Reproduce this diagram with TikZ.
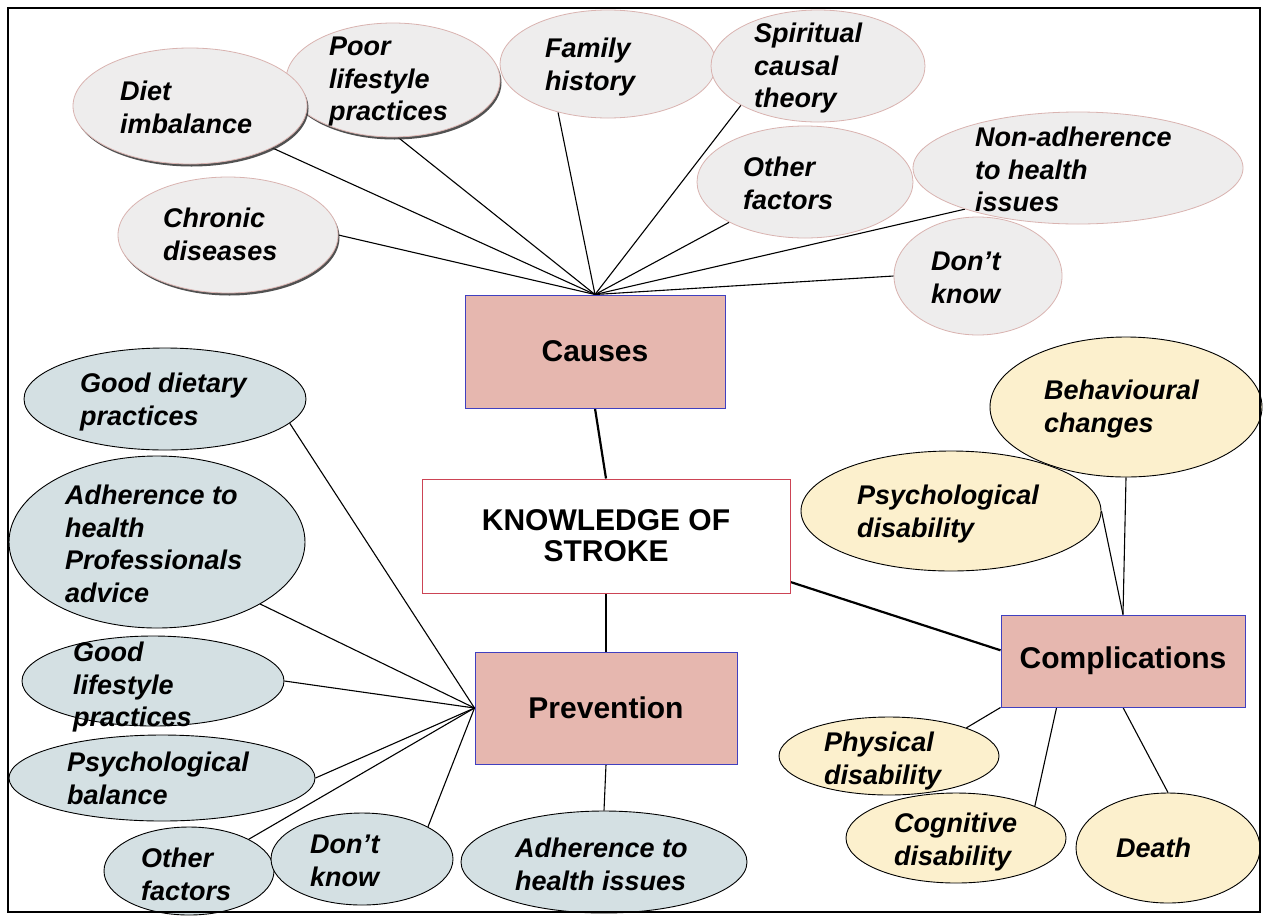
\documentclass[tikz,border=0pt]{standalone}
\usepackage{fontspec}
\setmainfont{Liberation Sans}
\usetikzlibrary{shapes.geometric,shadows}
\pgfdeclarelayer{bg}
\pgfsetlayers{bg,main}
\definecolor{causefill}{HTML}{EEEDED}
\definecolor{causeline}{HTML}{D9B3B0}
\definecolor{prevfill}{HTML}{D4E0E3}
\definecolor{compfill}{HTML}{FCF0CD}
\definecolor{boxfill}{HTML}{E6B7AF}
\definecolor{boxline}{HTML}{4040C0}
\definecolor{ksline}{HTML}{CC4455}
\tikzset{
  ell/.style 2 args={ellipse, minimum width=#1, minimum height=#2, inner sep=0pt},
  causeE/.style={draw=causeline, fill=causefill, line width=0.8pt},
  shadowed/.style={drop shadow={shadow xshift=1.5pt, shadow yshift=-2.5pt, fill=black!80, opacity=0.85}},
  prevE/.style={draw=black, fill=prevfill, line width=0.9pt},
  compE/.style={draw=black, fill=compfill, line width=0.9pt},
  lab/.style={anchor=north west, align=left, inner sep=0pt, font=\fontsize{27}{32.5}\selectfont\bfseries\itshape},
  boxN/.style={draw=boxline, fill=boxfill, line width=1pt, inner sep=0pt, font=\fontsize{30}{31}\selectfont\bfseries, align=center},
  ksN/.style={draw=ksline, fill=white, line width=1pt, inner sep=0pt, font=\fontsize{30}{31}\selectfont\bfseries, align=center},
  link/.style={line width=1.1pt},
  mainlink/.style={line width=2.2pt}
}
\begin{document}
\begin{tikzpicture}[x=1pt,y=-1pt]
\useasboundingbox (0,0) rectangle (1265,916);
\begin{pgfonlayer}{bg}
\fill[white] (0,0) rectangle (1265,916);
\end{pgfonlayer}

% boxes
\node[boxN, minimum width=260, minimum height=113] (causes) at (595,351.5) {Causes};
\node[ksN, minimum width=368, minimum height=114] (ks) at (606,536) {KNOWLEDGE OF\\STROKE};
\node[boxN, minimum width=262, minimum height=112] (prev) at (606,708) {Prevention};
\node[boxN, minimum width=244, minimum height=92] (comp) at (1123,661) {Complications};

% causes ellipses
\node[ell={214}{114}, causeE, shadowed] (poor) at (393,80) {};
\node[ell={234}{116}, causeE, shadowed] (diet) at (190,106) {};
\node[ell={216}{108}, causeE] (fam) at (608,64) {};
\node[ell={214}{112}, causeE] (spir) at (818,66) {};
\node[ell={220}{116}, causeE, shadowed] (chron) at (228,235) {};
\node[ell={216}{112}, causeE] (coth) at (805,182) {};
\node[ell={330}{112}, causeE] (nonad) at (1078,168) {};
\node[ell={168}{118}, causeE] (cdk) at (978,276) {};

% prevention ellipses
\node[ell={282}{102}, prevE] (gdiet) at (165,399) {};
\node[ell={296}{172}, prevE] (adhp) at (157,542) {};
\node[ell={262}{90}, prevE] (glife) at (153,681) {};
\node[ell={306}{86}, prevE] (pbal) at (162,778) {};
\node[ell={170}{88}, prevE] (poth) at (189,871) {};
\node[ell={182}{92}, prevE] (pdk) at (362,859) {};
\node[ell={286}{102}, prevE] (adhi) at (604,862) {};

% complication ellipses
\node[ell={272}{140}, compE] (behav) at (1126,407) {};
\node[ell={300}{120}, compE] (psyd) at (951,511) {};
\node[ell={220}{78}, compE] (phys) at (889,756) {};
\node[ell={220}{90}, compE] (cogd) at (956,838) {};
\node[ell={184}{110}, compE] (death) at (1168,848) {};

% texts
\node[lab] (diet-t) at (120,81) {Diet\\imbalance};
\node[lab] (poor-t) at (329,37) {Poor\\lifestyle\\practices};
\node[lab] (fam-t) at (545,38) {Family\\history};
\node[lab] (spir-t) at (754,23) {Spiritual\\causal\\theory};
\node[lab] (chron-t) at (163,208) {Chronic\\diseases};
\node[lab] (coth-t) at (743,157) {Other\\factors};
\node[lab] (nonad-t) at (975,127) {Non-adherence\\to health\\issues};
\node[lab] (cdk-t) at (931,252) {Don’t\\know};
\node[lab] (gdiet-t) at (80,373) {Good dietary\\practices};
\node[lab] (adhp-t) at (65,485) {Adherence to\\health\\Professionals\\advice};
\node[lab] (glife-t) at (73,642) {Good\\lifestyle\\practices};
\node[lab] (pbal-t) at (67,752) {Psychological\\balance};
\node[lab] (poth-t) at (141,848) {Other\\factors};
\node[lab] (pdk-t) at (310,835) {Don’t\\know};
\node[lab] (adhi-t) at (515,838) {Adherence to\\health issues};
\node[lab] (behav-t) at (1044,380) {Behavioural\\changes};
\node[lab] (psyd-t) at (857,485) {Psychological\\disability};
\node[lab] (phys-t) at (824,732) {Physical\\disability};
\node[lab] (cogd-t) at (894,813) {Cognitive\\disability};
\node[lab, anchor=west] (death-t) at (1116,848) {Death};

% connectors
\begin{pgfonlayer}{bg}
\draw[link] (causes.north) -- (diet.-27);
\draw[link] (causes.north) -- (poor.-85);
\draw[link] (causes.north) -- (fam.-136);
\draw[link] (causes.north) -- (chron.east);
\draw[link] (causes.north) -- (spir.-153);
\draw[link] (causes.north) -- (coth.-152);
\draw[link] (causes.north) -- (nonad.-160);
\draw[link] (causes.north) -- (cdk.west);

\draw[link] (prev.west) -- (gdiet.-11);
\draw[link] (prev.west) -- (adhp.-31);
\draw[link] (prev.west) -- (glife.east);
\draw[link] (prev.west) -- (pbal.east);
\draw[link] (prev.west) -- (poth.28);
\draw[link] (prev.west) -- (pdk.26);
\draw[link] (prev.south) -- (adhi.north);

\draw[link] (comp.north) -- (behav.south);
\draw[link] (comp.north) -- (psyd.east);
\draw[link] (comp.south west) -- (phys.20);
\draw[link] (comp.-145) -- (cogd.22);
\draw[link] (comp.south) -- (death.north);

\draw[mainlink] (causes.south) -- (ks.north);
\draw[mainlink] (ks.south) -- (prev.north);
\draw[mainlink] (ks.-14) -- (comp.175);
\end{pgfonlayer}

\draw[line width=2pt] (8,8) rectangle (1260,912);
\end{tikzpicture}
\end{document}
